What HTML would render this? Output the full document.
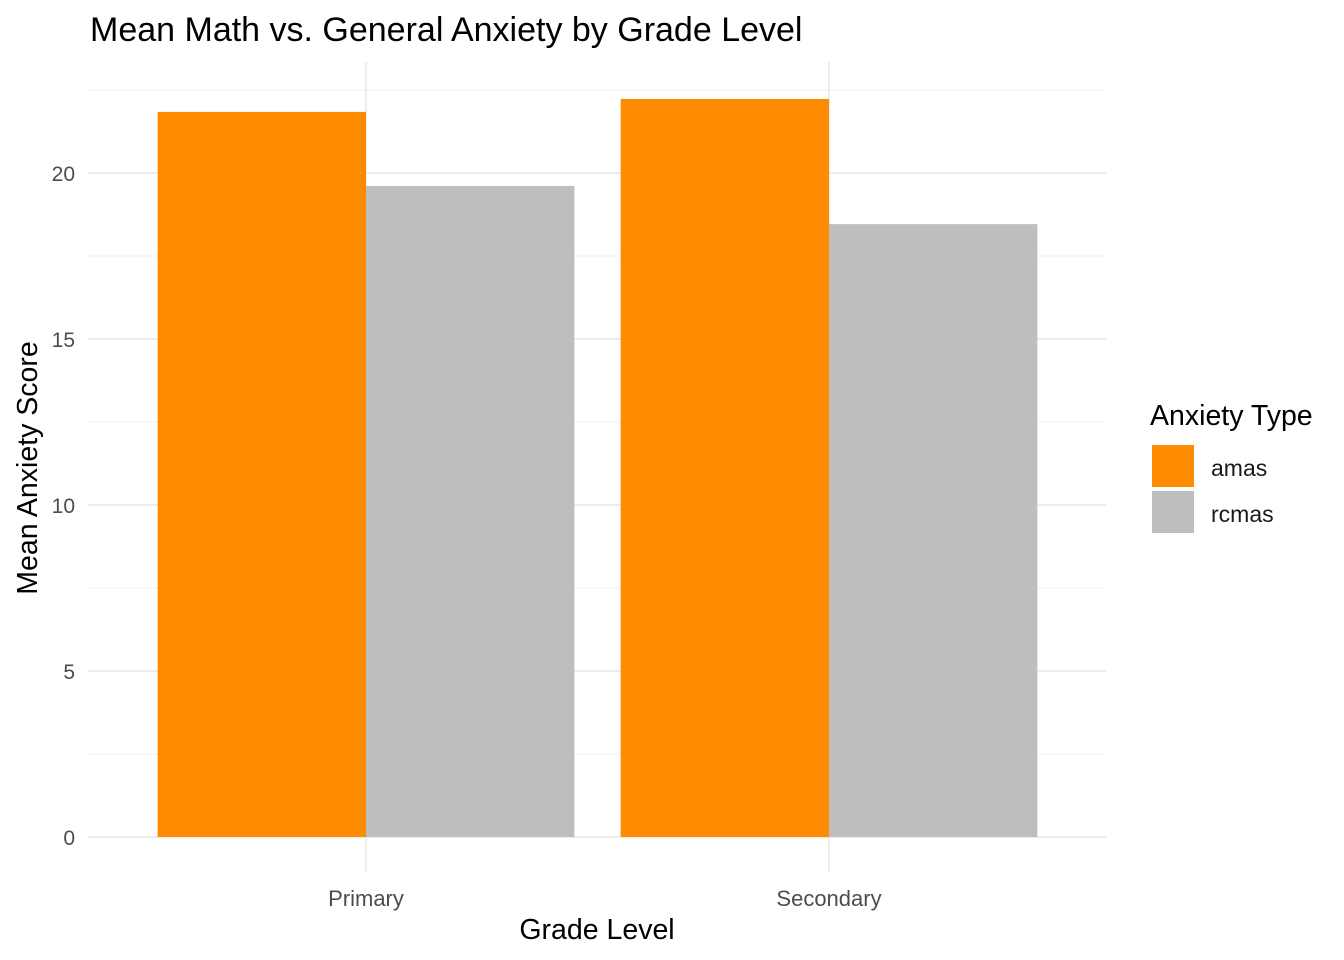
<!DOCTYPE html>
<html><head><meta charset="utf-8"><style>
body{margin:0;background:#fff;}
svg{display:block;font-family:"Liberation Sans",Arial,sans-serif;}
</style></head><body>
<svg id="chart" width="1344" height="960" xmlns="http://www.w3.org/2000/svg">
<text x="90" y="41" font-size="34" fill="#000">Mean Math vs. General Anxiety by Grade Level</text>
<g id="grid"></g>
<g id="bars"></g>
<g id="axes"></g>
<text x="597" y="939" font-size="28.5" text-anchor="middle" fill="#000">Grade Level</text>
<text transform="translate(37,468) rotate(-90)" font-size="28.5" text-anchor="middle" fill="#000">Mean Anxiety Score</text>
<g>
<text x="1150" y="425" font-size="28.5" fill="#000">Anxiety Type</text>
<rect x="1152" y="445" width="42" height="42" fill="#FF8C00"/>
<text x="1211" y="476" font-size="23" fill="#1a1a1a">amas</text>
<rect x="1152" y="491" width="42" height="42" fill="#BEBEBE"/>
<text x="1211" y="522" font-size="23" fill="#1a1a1a">rcmas</text>
</g>
</svg>
<script>
const categories = ["Primary","Secondary"];
const amasValues = [21.84, 22.23];
const rcmasValues = [19.61, 18.46];
const yTicks = [0,5,10,15,20];
const NS="http://www.w3.org/2000/svg";
const panelLeft=88,panelRight=1106,panelTop=62,panelBottom=872;
const y0=837,pxPerUnit=33.2;
function yScale(v){return y0-v*pxPerUnit;}
function xc(i){return 366+i*463;}
const bandW=463*0.9;
function mk(tag,attrs,parent){const e=document.createElementNS(NS,tag);for(const k in attrs)e.setAttribute(k,attrs[k]);parent.appendChild(e);return e;}
const grid=document.getElementById('grid'),bars=document.getElementById('bars'),axes=document.getElementById('axes');
for(let i=0;i<yTicks.length;i++){
  const v=yTicks[i]+2.5;
  const l=mk('line',{x1:panelLeft,x2:panelRight,y1:yScale(v),y2:yScale(v),stroke:'#f0f0f0','stroke-width':1},grid);
  
  
}
yTicks.forEach(t=>{
  const l=mk('line',{x1:panelLeft,x2:panelRight,y1:yScale(t),y2:yScale(t),stroke:'#e5e5e5','stroke-width':1.4},grid);
  
  
  const tx=mk('text',{x:75,y:yScale(t)+8,'font-size':21,'text-anchor':'end',fill:'#4d4d4d'},axes);
  tx.textContent=t;
  
  
});
categories.forEach((c,i)=>{
  const l=mk('line',{x1:xc(i),x2:xc(i),y1:panelTop,y2:panelBottom,stroke:'#e5e5e5','stroke-width':1.4},grid);
  
  
  const x0=xc(i)-bandW/2,w=bandW/2;
  const a=mk('rect',{x:x0,y:yScale(amasValues[i]),width:w,height:y0-yScale(amasValues[i]),fill:'#FF8C00'},bars);
  
  
  const r=mk('rect',{x:x0+w,y:yScale(rcmasValues[i]),width:w,height:y0-yScale(rcmasValues[i]),fill:'#BEBEBE'},bars);
  
  
  const tx=mk('text',{x:xc(i),y:906,'font-size':22,'text-anchor':'middle',fill:'#4d4d4d'},axes);
  tx.textContent=c;
  
  
});
</script>
</body></html>
